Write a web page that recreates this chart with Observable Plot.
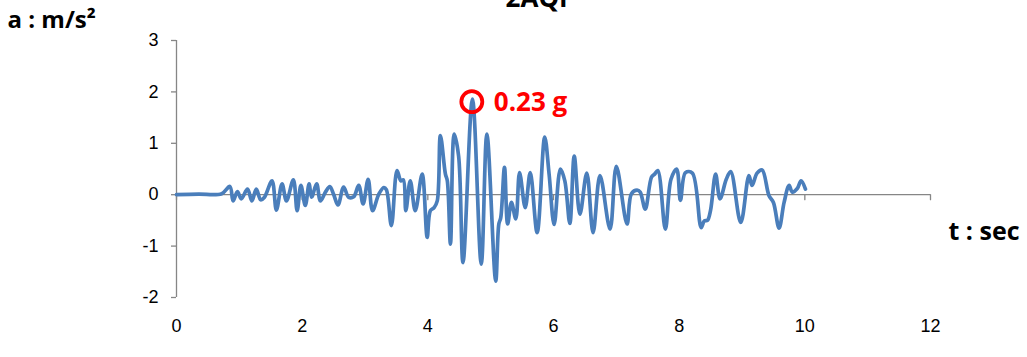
<!DOCTYPE html>
<html>
<head>
<meta charset="utf-8">
<script src="https://cdn.jsdelivr.net/npm/d3@7"></script>
<script src="https://cdn.jsdelivr.net/npm/@observablehq/plot@0.6"></script>
<style>
  html, body { margin: 0; padding: 0; background: #fff; }
</style>
</head>
<body>
<div id="chart"></div>
<script>
// ---- data ----
const title = "2AQP";
const yLabel = "a : m/s²";
const xLabel = "t : sec";
const xTicks = [0, 2, 4, 6, 8, 10, 12];
const yTicks = [-2, -1, 0, 1, 2, 3];

const time = [
  0, 0.35, 0.72, 0.85, 0.90, 0.97, 1.03, 1.13, 1.20, 1.27, 1.34, 1.40,
  1.52, 1.59, 1.68, 1.75, 1.86, 1.92, 1.98, 2.05, 2.11, 2.15, 2.23, 2.29,
  2.37, 2.44, 2.50, 2.57, 2.66, 2.74, 2.82, 2.90, 2.97, 3.05, 3.12, 3.22,
  3.30, 3.34, 3.42, 3.51, 3.57, 3.61, 3.65, 3.72, 3.80, 3.91, 3.99, 4.04,
  4.10, 4.15, 4.20, 4.28, 4.31, 4.36, 4.42, 4.49, 4.56, 4.71, 4.85, 4.94,
  5.08, 5.13, 5.16, 5.22, 5.27, 5.33, 5.40, 5.46, 5.55, 5.63, 5.74, 5.86,
  5.93, 6.01, 6.11, 6.18, 6.26, 6.33, 6.42, 6.53, 6.63, 6.74, 6.90, 7.00,
  7.17, 7.24, 7.33, 7.38, 7.46, 7.56, 7.61, 7.66, 7.78, 7.87, 7.96, 8.02,
  8.10, 8.21, 8.35, 8.40, 8.45, 8.50, 8.58, 8.65, 8.75, 8.82, 8.98, 9.11,
  9.16, 9.24, 9.32, 9.43, 9.50, 9.59, 9.67, 9.75, 9.80, 9.88, 9.94, 10.01
];
const accel = [
  0, 0.01, 0.02, 0.16, -0.12, 0.06, -0.08, 0.11, -0.12, 0.11, -0.10, -0.05,
  0.27, -0.30, 0.21, -0.12, 0.29, -0.31, 0.18, -0.21, 0.21, -0.05, 0.21, -0.12,
  0.05, 0.16, 0.01, -0.20, 0.15, -0.05, -0.04, 0.18, -0.18, 0.30, -0.31, 0.01,
  0.14, 0.10, -0.60, 0.47, 0.27, 0.29, -0.31, 0.27, -0.31, 0.40, -0.83, -0.31,
  -0.25, -0.12, 1.15, 0.40, 0.27, -0.96, 1.18, 0.75, -1.32, 1.86, -1.35, 1.18,
  -1.68, -0.57, -0.45, 0.53, -0.57, -0.15, -0.47, 0.43, -0.25, 0.43, -0.74, 1.12,
  0.40, -0.58, 0.50, 0.27, -0.56, 0.75, -0.38, 0.42, -0.74, 0.37, -0.67, 0.55,
  -0.57, 0.02, 0.09, 0.05, -0.28, 0.34, 0.40, 0.47, -0.67, 0.30, 0.50, -0.11,
  0.43, 0.42, -0.64, -0.51, -0.50, -0.30, 0.40, -0.08, 0.30, 0.45, -0.54, 0.37,
  0.18, 0.42, 0.48, -0.02, -0.15, -0.65, -0.15, 0.18, 0.05, 0.12, 0.27, 0.11
];

const peakT = [4.70];
const peakA = [1.81];
const peakLabel = ["0.23 g"];

// ---- tables built from the arrays ----
const series = time.map((t, i) => ({t, a: accel[i]}));
const peaks = peakT.map((t, i) => ({t, a: peakA[i], label: peakLabel[i]}));

const axisGray = "#868686";
const lineBlue = "#4A7EBB";
const bold = "'Open Sans', 'DejaVu Sans', sans-serif";

const chart = Plot.plot({
  width: 1027,
  height: 357,
  marginLeft: 176,
  marginRight: 97,
  marginTop: 40,
  marginBottom: 60,
  style: {fontFamily: "'Liberation Sans', Arial, sans-serif", fontSize: "18px", background: "#fff", overflow: "visible"},
  x: {domain: [0, 12]},
  y: {domain: [-2, 3]},
  marks: [
    // y axis line and ticks
    Plot.ruleX([0], {stroke: axisGray, strokeWidth: 1.3}),
    Plot.axisY({ticks: yTicks, tickSize: 5, tickPadding: 13, label: null, stroke: axisGray, strokeWidth: 1.3, tickFormat: d => d < 0 ? "-" + Math.abs(d) : String(d)}),
    // x axis line at 0 and its downward ticks
    Plot.ruleY([0], {stroke: axisGray, strokeWidth: 1.3}),
    Plot.vector(xTicks, {x: d => d, y: () => 0, length: 5, rotate: 180, anchor: "start", stroke: axisGray, strokeWidth: 1.3,
      shape: {draw(c, l) { c.moveTo(0, 0); c.lineTo(0, -l); }}}),
    // x tick labels at the bottom
    Plot.axisX({ticks: xTicks, tickSize: 0, tickPadding: 22, label: null}),
    // signal
    Plot.line(series, {x: "t", y: "a", stroke: lineBlue, strokeWidth: 3.7, curve: "catmull-rom"}),
    // peak annotation
    Plot.dot(peaks, {x: "t", y: "a", r: 10.5, stroke: "#FF0000", strokeWidth: 3.8, fill: "none"}),
    Plot.text(peaks, {x: "t", y: "a", text: "label", dx: 22, dy: 1, textAnchor: "start", lineAnchor: "middle",
      fill: "#FF0000", fontWeight: "bold", fontSize: 26, fontFamily: bold}),
    // labels
    Plot.text([title], {frameAnchor: "top", dx: -13, dy: -42, lineAnchor: "middle", textAnchor: "middle",
      fontWeight: "bold", fontSize: 26, fontFamily: bold}),
    Plot.text([yLabel], {frameAnchor: "top-left", dx: -169, dy: -20, lineAnchor: "middle", textAnchor: "start",
      fontWeight: "bold", fontSize: 24, fontFamily: bold}),
    Plot.text([xLabel], {frameAnchor: "right", dx: 18, dy: 63, lineAnchor: "middle", textAnchor: "start",
      fontWeight: "bold", fontSize: 25, fontFamily: bold})
  ]
});
document.getElementById("chart").appendChild(chart);
</script>
</body>
</html>
